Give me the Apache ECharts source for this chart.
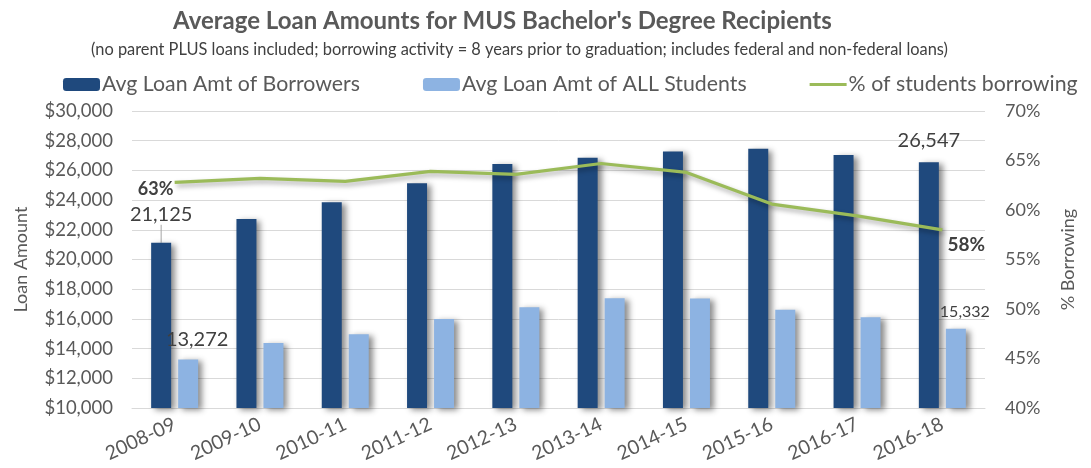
<!DOCTYPE html>
<html>
<head>
<meta charset="utf-8">
<script src="https://cdn.jsdelivr.net/npm/echarts@6/dist/echarts.min.js"></script>
<style>html,body{margin:0;padding:0;background:#fff;}#c{width:1091px;height:468px;}</style>
</head>
<body>
<div id="c"></div>
<script>
const categories = ['2008-09','2009-10','2010-11','2011-12','2012-13','2013-14','2014-15','2015-16','2016-17','2016-18'];
const borrowersAvg = [21125, 22730, 23850, 25130, 26430, 26860, 27280, 27460, 27040, 26547];
const allStudentsAvg = [13272, 14380, 14960, 15990, 16780, 17390, 17380, 16620, 16110, 15332];
const pctBorrowing = [62.8, 63.2, 62.9, 63.9, 63.6, 64.7, 63.8, 60.6, 59.4, 58.0];
const seriesNames = ['Avg Loan Amt of Borrowers', 'Avg Loan Amt of ALL Students', '% of students borrowing'];

const FONT = 'Lato, "Open Sans", sans-serif';
const GREY = '#595959';
const last = categories.length - 1;
const fmtNum = p => Number(p.value).toLocaleString('en-US');
const fmtPct = p => Math.round(p.value) + '%';

const chart = echarts.init(document.getElementById('c'), null, {renderer: 'canvas'});

const darkData = borrowersAvg.map((v, i) => {
  if (i === 0) return {value: v, label: {show: true, position: 'top', distance: 6, fontSize: 20},
                       labelLine: {show: true, lineStyle: {color: '#a6a6a6', width: 1}}};
  if (i === last) return {value: v, label: {show: true, position: 'top', distance: 12, fontSize: 20}};
  return v;
});
const lightData = allStudentsAvg.map((v, i) => {
  if (i === 0) return {value: v, label: {show: true, position: 'top', distance: 10, offset: [9, 0], fontSize: 20}};
  if (i === last) return {value: v, label: {show: true, position: 'top', distance: 9, offset: [9, 0], fontSize: 16}};
  return v;
});
const lineData = pctBorrowing.map((v, i) => {
  if (i === 0) return {value: v, label: {show: true, position: 'inside', offset: [-19, 7], fontSize: 18, fontWeight: 'bold'}};
  if (i === last) return {value: v, label: {show: true, position: 'inside', offset: [24, 15], fontSize: 19, fontWeight: 'bold'}};
  return v;
});

const option = {
  backgroundColor: '#fff',
  animation: false,
  textStyle: {fontFamily: FONT},
  title: [
    {text: "Average Loan Amounts for MUS Bachelor's Degree Recipients", left: 168, top: 4,
     textStyle: {fontFamily: FONT, fontSize: 24, fontWeight: 'bold', color: GREY}},
    {text: '(no parent PLUS loans included; borrowing activity = 8 years prior to graduation; includes federal and non-federal loans)',
     left: 86, top: 37, textStyle: {fontFamily: FONT, fontSize: 16.4, fontWeight: 'normal', color: '#404040'}}
  ],
  legend: {
    left: 58, top: 69, itemGap: 63, itemWidth: 37, itemHeight: 13,
    textStyle: {fontFamily: FONT, fontSize: 21.3, color: GREY, padding: [0, 0, 0, -3]},
    data: [
      {name: seriesNames[0]},
      {name: seriesNames[1]},
      {name: seriesNames[2], icon: 'path://M0,0 L40,0 L40,3 L0,3 Z', itemStyle: {color: '#9BBB59', opacity: 1}}
    ]
  },
  grid: {left: 132, right: 106, top: 111, bottom: 60, containLabel: false},
  xAxis: {
    type: 'category', data: categories,
    axisLine: {lineStyle: {color: '#d9d9d9', width: 1}},
    axisTick: {show: false},
    axisLabel: {rotate: 25, margin: 15, fontSize: 19.5, color: GREY, fontFamily: FONT}
  },
  yAxis: [
    {type: 'value', min: 10000, max: 30000, interval: 2000,
     name: 'Loan Amount', nameLocation: 'middle', nameGap: 102,
     nameTextStyle: {fontSize: 18, color: GREY, fontFamily: FONT},
     axisLabel: {fontSize: 18.5, color: GREY, margin: 19, fontFamily: FONT,
       formatter: v => '$' + v.toLocaleString('en-US')},
     axisLine: {show: false}, axisTick: {show: false},
     splitLine: {lineStyle: {color: '#d9d9d9', width: 1}}},
    {type: 'value', min: 40, max: 70, interval: 5,
     name: '% Borrowing', nameLocation: 'middle', nameGap: 74,
     nameTextStyle: {fontSize: 18, color: GREY, fontFamily: FONT},
     axisLabel: {fontSize: 18, color: GREY, margin: 20, formatter: '{value}%', fontFamily: FONT},
     axisLine: {show: false}, axisTick: {show: false}, splitLine: {show: false}}
  ],
  series: [
    {name: seriesNames[0], type: 'bar', yAxisIndex: 0, data: darkData,
     barWidth: 20, barGap: '35%',
     itemStyle: {color: '#1F497D', shadowColor: 'rgba(0,0,0,0.45)', shadowBlur: 6, shadowOffsetX: 4, shadowOffsetY: 2},
     label: {show: false, color: '#404040', fontFamily: FONT, formatter: fmtNum},
     labelLine: {show: false},
     labelLayout: p => p.dataIndex === 0 ? {dy: -12} : {}},
    {name: seriesNames[1], type: 'bar', yAxisIndex: 0, data: lightData,
     barWidth: 20,
     itemStyle: {color: '#8DB3E2', shadowColor: 'rgba(0,0,0,0.45)', shadowBlur: 6, shadowOffsetX: 4, shadowOffsetY: 2},
     label: {show: false, color: '#404040', fontFamily: FONT, formatter: fmtNum}},
    {name: seriesNames[2], type: 'line', yAxisIndex: 1, data: lineData,
     symbol: 'circle', symbolSize: 0.1, showSymbol: true, z: 5,
     lineStyle: {color: '#9BBB59', width: 3.2, shadowColor: 'rgba(0,0,0,0.35)', shadowBlur: 5, shadowOffsetX: 2, shadowOffsetY: 3},
     itemStyle: {color: '#9BBB59'},
     label: {show: false, color: '#404040', fontFamily: FONT, formatter: fmtPct}}
  ]
};
chart.setOption(option);
</script>
</body>
</html>
